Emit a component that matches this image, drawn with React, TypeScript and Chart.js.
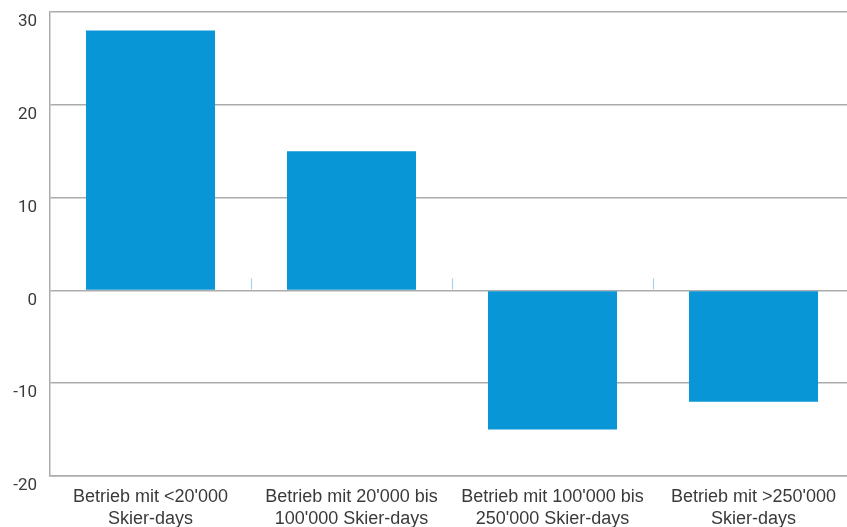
import React, { useEffect, useRef } from "react";
import { Chart, registerables } from "chart.js";

Chart.register(...registerables);

// Categories (two-line labels), change values and y-axis range
const categories: string[][] = [
  ["Betrieb mit <20'000", "Skier-days"],
  ["Betrieb mit 20'000 bis", "100'000 Skier-days"],
  ["Betrieb mit 100'000 bis", "250'000 Skier-days"],
  ["Betrieb mit >250'000", "Skier-days"],
];
const values: number[] = [28, 15, -15, -12];
const yMin = -20;
const yMax = 30;
const yStep = 10;

const BAR_COLOR = "#0896d7";
const GRID_COLOR = "#ababab";
const TEXT_COLOR = "#3a3a3a";
const DIVIDER_COLOR = "#a3d3ee";

// Short light-blue dividers between categories, standing on the zero line
const zeroDividers = {
  id: "zeroDividers",
  afterDatasetsDraw(chart: Chart) {
    const x = chart.scales.x;
    const y = chart.scales.y;
    const y0 = y.getPixelForValue(0);
    const ctx = chart.ctx;
    ctx.save();
    ctx.strokeStyle = DIVIDER_COLOR;
    ctx.lineWidth = 1.2;
    for (let i = 0; i < categories.length - 1; i++) {
      const xp = Math.round((x.getPixelForValue(i) + x.getPixelForValue(i + 1)) / 2) + 0.5;
      ctx.beginPath();
      ctx.moveTo(xp, y0 - 12);
      ctx.lineTo(xp, y0 - 1);
      ctx.stroke();
    }
    ctx.restore();
  },
};

export default function App() {
  const ref = useRef<HTMLCanvasElement | null>(null);

  useEffect(() => {
    if (!ref.current) return;
    const chart = new Chart(ref.current, {
      type: "bar",
      data: {
        labels: categories,
        datasets: [
          {
            data: values,
            backgroundColor: BAR_COLOR,
            borderWidth: 0,
            categoryPercentage: 1,
            barPercentage: 0.642,
          },
        ],
      },
      options: {
        animation: false,
        responsive: true,
        maintainAspectRatio: false,
        layout: { padding: { top: 12, right: 0, bottom: 0, left: 0 } },
        plugins: {
          legend: { display: false },
          tooltip: { enabled: false },
        },
        scales: {
          x: {
            grid: { display: false },
            border: { display: true, color: GRID_COLOR, width: 1.5 },
            ticks: {
              color: TEXT_COLOR,
              font: { family: "'Liberation Sans', Arial, sans-serif", size: 18, lineHeight: 1.22 },
              padding: 2,
              maxRotation: 0,
              autoSkip: false,
            },
            afterFit(scale: any) {
              scale.height = 51;
              scale.paddingLeft = 0;
              scale.paddingRight = 0;
            },
          },
          y: {
            min: yMin,
            max: yMax,
            grid: {
              color: GRID_COLOR,
              lineWidth: 1.5,
              drawTicks: false,
            },
            border: { display: true, color: GRID_COLOR, width: 1.5 },
            ticks: {
              stepSize: yStep,
              color: TEXT_COLOR,
              font: { family: "Roboto, 'Liberation Sans', sans-serif", size: 17 },
              padding: 13,
              labelOffset: 10,
            },
            afterFit(scale: any) {
              scale.width = 50;
              scale.paddingTop = 0;
              scale.paddingBottom = 0;
            },
          },
        },
      },
      plugins: [zeroDividers],
    });
    return () => chart.destroy();
  }, []);

  return (
    <div style={{ position: "fixed", left: 0, top: 0, width: 854, height: 527, background: "#fff" }}>
      <canvas ref={ref} />
    </div>
  );
}
